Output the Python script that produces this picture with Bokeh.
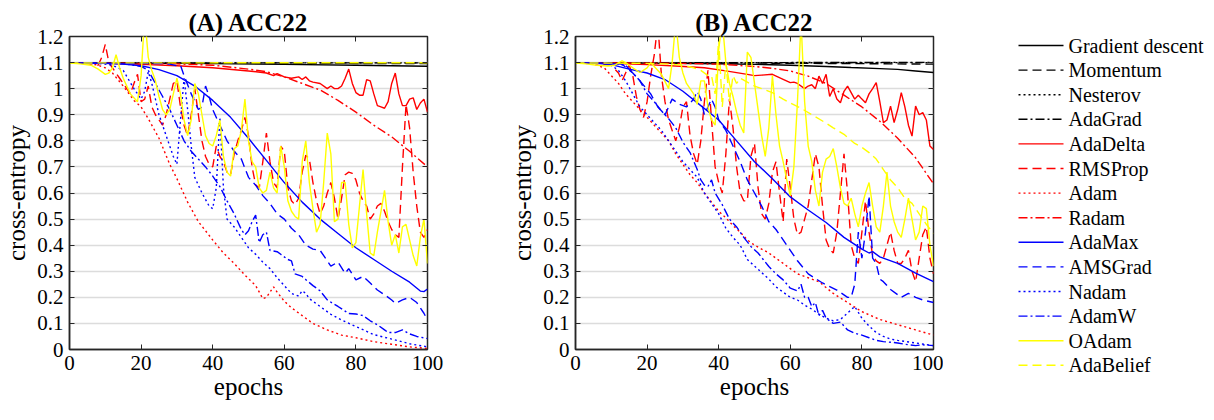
from bokeh.plotting import figure
from bokeh.layouts import row
from bokeh.models import FixedTicker, Range1d, LinearAxis
from bokeh.core.properties import value
from bokeh.embed import file_html
from bokeh.resources import INLINE

# ---------------- data (epoch, cross-entropy) ----------------
NAMES = ["Gradient descent", "Momentum", "Nesterov", "AdaGrad", "AdaDelta", "RMSProp",
         "Adam", "Radam", "AdaMax", "AMSGrad", "Nadam", "AdamW", "OAdam", "AdaBelief"]
TITLES = ["(A) ACC22", "(B) ACC22"]
X_TICKS = [0, 20, 40, 60, 80, 100]
Y_TICKS = [0, 0.1, 0.2, 0.3, 0.4, 0.5, 0.6, 0.7, 0.8, 0.9, 1, 1.1, 1.2]
Y_TICK_LABELS = ["0", "0.1", "0.2", "0.3", "0.4", "0.5", "0.6", "0.7", "0.8", "0.9", "1", "1.1", "1.2"]

# ----- panel A -----
A_GD = [(0, 1.0986), (20, 1.098), (40, 1.096), (60, 1.093), (80, 1.09), (100, 1.086)]
A_MOM = [(0, 1.0986), (50, 1.098), (100, 1.096)]
A_NES = [(0, 1.0986), (100, 1.0988)]
A_ADAGRAD = [(0, 1.0986), (100, 1.0990)]
A_ADADELTA = [(0, 1.0986), (10, 1.097), (20, 1.093), (30, 1.088), (40, 1.08), (50, 1.068), (55, 1.06), (57, 1.05),
              (58, 1.058), (60, 1.045), (62, 1.04), (64, 1.045), (65, 1.035), (66, 1.045), (67, 1.03), (68, 1.025),
              (70, 1.02), (72, 1.0), (73, 1.01), (74, 1.0), (75, 1.0), (76, 1.01), (77, 1.04), (78, 1.075),
              (79, 1.02), (80, 0.985), (81, 0.975), (82, 0.975), (83, 1.035), (84, 1.03), (85, 0.98), (86, 0.935),
              (87, 0.93), (88, 0.925), (89, 0.95), (90, 1.02), (91, 1.06), (92, 0.98), (93, 0.935), (94, 0.935),
              (95, 0.96), (96, 0.965), (97, 0.92), (98, 0.945), (99, 0.96), (100, 0.91)]
A_RMSPROP = [(0, 1.0986), (3, 1.097), (6, 1.095), (8, 1.09), (9, 1.12), (10, 1.17), (11, 1.1), (12, 1.08), (14, 1.04),
             (16, 1.0), (17, 0.98), (18, 1.02), (19, 1.055), (20, 0.95), (21, 0.96), (22, 1.01), (23, 0.93), (24, 0.9),
             (25, 0.88), (26, 0.86), (27, 0.9), (28, 0.96), (29, 1.02), (30, 1.03), (31, 0.93), (32, 0.86),
             (33, 0.82), (34, 0.9), (35, 1.0), (36, 0.9), (37, 0.8), (38, 0.74), (39, 0.71), (40, 0.7), (41, 0.78),
             (42, 0.74), (43, 0.72), (44, 0.68), (45, 0.67), (46, 0.75), (47, 0.8), (48, 0.84), (49, 0.89), (50, 0.82),
             (51, 0.7), (52, 0.63), (53, 0.62), (54, 0.72), (55, 0.83), (56, 0.72), (57, 0.64), (58, 0.62), (59, 0.78),
             (60, 0.76), (61, 0.62), (62, 0.57), (63, 0.555), (64, 0.58), (65, 0.68), (66, 0.745), (67, 0.73),
             (68, 0.64), (69, 0.57), (70, 0.52), (71, 0.55), (72, 0.6), (73, 0.64), (74, 0.58), (75, 0.5), (76, 0.58),
             (77, 0.67), (78, 0.68), (79, 0.675), (80, 0.65), (81, 0.6), (82, 0.57), (83, 0.55), (84, 0.5), (85, 0.52),
             (86, 0.55), (87, 0.56), (88, 0.53), (89, 0.49), (90, 0.46), (91, 0.44), (92, 0.43), (93, 0.7), (94, 0.94),
             (95, 0.85), (96, 0.68), (97, 0.55), (98, 0.45), (99, 0.43), (100, 0.46)]
A_ADAM = [(0, 1.0986), (5, 1.097), (8, 1.09), (10, 1.08), (12, 1.06), (15, 1.01), (18, 0.955), (20, 0.93), (22, 0.885),
          (25, 0.81), (28, 0.71), (30, 0.655), (33, 0.565), (36, 0.49), (40, 0.42), (43, 0.37), (46, 0.33), (49, 0.285),
          (52, 0.245), (54, 0.195), (55, 0.2), (57, 0.24), (58, 0.22), (60, 0.185), (62, 0.16), (65, 0.13), (68, 0.1),
          (72, 0.075), (76, 0.055), (80, 0.045), (85, 0.03), (90, 0.02), (95, 0.01), (100, 0.004)]
A_RADAM = [(0, 1.0986), (10, 1.098), (20, 1.097), (30, 1.095), (40, 1.09), (50, 1.075), (55, 1.065), (60, 1.045),
           (65, 1.02), (70, 0.995), (75, 0.955), (80, 0.91), (85, 0.86), (90, 0.815), (95, 0.76), (100, 0.70)]
A_ADAMAX = [(0, 1.0986), (10, 1.097), (15, 1.094), (20, 1.088), (25, 1.073), (30, 1.05), (35, 1.01), (40, 0.955),
            (45, 0.89), (50, 0.81), (55, 0.725), (60, 0.64), (65, 0.565), (70, 0.5), (75, 0.445), (80, 0.39),
            (85, 0.345), (90, 0.3), (95, 0.258), (98, 0.224), (99, 0.222), (100, 0.232)]
A_AMSGRAD = [(0, 1.0986), (10, 1.098), (20, 1.097), (26, 1.096), (28, 1.094), (30, 1.088), (31, 1.09), (32, 1.05),
             (34, 0.98), (36, 0.92), (37, 0.93), (38, 1.01), (39, 0.97), (40, 0.92), (42, 0.86), (44, 0.8), (46, 0.76),
             (48, 0.73), (50, 0.66), (52, 0.63), (54, 0.59), (56, 0.56), (58, 0.52), (60, 0.5), (62, 0.465),
             (64, 0.44), (66, 0.4), (68, 0.385), (70, 0.38), (72, 0.34), (73, 0.32), (75, 0.335), (77, 0.292),
             (78, 0.31), (80, 0.267), (82, 0.28), (84, 0.255), (86, 0.228), (88, 0.21), (90, 0.19), (91, 0.177),
             (93, 0.19), (95, 0.2), (97, 0.18), (99, 0.139), (100, 0.113)]
A_NADAM = [(0, 1.0986), (8, 1.097), (12, 1.09), (15, 1.07), (18, 1.0), (20, 0.96), (21, 0.99), (22, 1.065), (23, 1.02),
           (25, 0.9), (27, 0.82), (29, 0.74), (30, 0.71), (31, 0.88), (32, 1.04), (33, 0.92), (34, 0.78), (35, 0.66),
           (37, 0.6), (39, 0.55), (40, 0.54), (41, 0.62), (42, 0.89), (43, 0.62), (44, 0.5), (46, 0.47), (48, 0.43),
           (50, 0.39), (52, 0.365), (54, 0.335), (56, 0.31), (58, 0.275), (60, 0.245), (62, 0.215), (64, 0.205),
           (65, 0.225), (66, 0.215), (67, 0.195), (70, 0.165), (73, 0.135), (76, 0.113), (80, 0.088), (85, 0.057),
           (90, 0.04), (95, 0.022), (100, 0.01)]
A_ADAMW = [(0, 1.0986), (10, 1.098), (15, 1.095), (18, 1.09), (20, 1.085), (22, 1.07), (24, 1.02), (26, 0.97),
           (28, 0.92), (30, 0.86), (32, 0.8), (34, 0.76), (36, 0.73), (38, 0.7), (40, 0.665), (42, 0.625), (44, 0.57),
           (46, 0.52), (48, 0.46), (49, 0.44), (50, 0.455), (51, 0.49), (52, 0.515), (53, 0.41), (54, 0.44),
           (55, 0.45), (56, 0.38), (58, 0.375), (59, 0.365), (61, 0.345), (62, 0.34), (63, 0.29), (65, 0.28),
           (66, 0.268), (68, 0.245), (70, 0.225), (72, 0.19), (75, 0.165), (78, 0.138), (80, 0.136), (82, 0.13),
           (84, 0.11), (86, 0.095), (88, 0.075), (89, 0.065), (91, 0.065), (93, 0.075), (95, 0.06), (97, 0.05),
           (100, 0.042)]
A_OADAM = [(0, 1.0986), (3, 1.095), (6, 1.09), (8, 1.075), (10, 1.055), (11, 1.06), (12, 1.08), (13, 1.13), (14, 1.08),
           (15, 1.04), (17, 0.98), (19, 0.95), (20, 1.05), (21, 1.28), (22, 1.12), (23, 1.07), (24, 1.03), (25, 0.97),
           (26, 0.92), (27, 0.9), (28, 0.92), (29, 0.98), (30, 1.04), (31, 0.98), (32, 0.88), (33, 0.82), (34, 0.88),
           (35, 1.02), (36, 0.98), (37, 0.9), (38, 0.82), (39, 0.79), (40, 0.78), (41, 0.82), (42, 0.88), (43, 0.74),
           (44, 0.68), (45, 0.665), (46, 0.77), (47, 0.78), (48, 0.84), (49, 0.96), (50, 0.8), (51, 0.72), (52, 0.7),
           (53, 0.62), (54, 0.6), (55, 0.61), (56, 0.68), (57, 0.62), (58, 0.6), (59, 0.78), (60, 0.7), (61, 0.57),
           (62, 0.53), (63, 0.51), (64, 0.5), (65, 0.72), (66, 0.8), (67, 0.64), (68, 0.54), (69, 0.45), (70, 0.48),
           (71, 0.64), (72, 0.83), (73, 0.75), (74, 0.49), (75, 0.5), (76, 0.64), (77, 0.64), (78, 0.48), (79, 0.39),
           (80, 0.41), (81, 0.55), (82, 0.69), (83, 0.52), (84, 0.37), (85, 0.36), (86, 0.45), (87, 0.53), (88, 0.61),
           (89, 0.49), (90, 0.4), (91, 0.44), (92, 0.37), (93, 0.47), (94, 0.48), (95, 0.42), (96, 0.36), (97, 0.32),
           (98, 0.43), (99, 0.5), (100, 0.33)]
A_ADABELIEF = [(0, 1.0986), (50, 1.0992), (100, 1.0995)]

# ----- panel B -----
B_GD = [(0, 1.0986), (20, 1.098), (40, 1.095), (50, 1.093), (60, 1.09), (70, 1.085), (77, 1.081), (85, 1.077),
        (90, 1.074), (95, 1.068), (100, 1.062)]
B_MOM = [(0, 1.0986), (50, 1.098), (80, 1.096), (100, 1.094)]
B_NES = [(0, 1.0986), (100, 1.100)]
B_ADAGRAD = [(0, 1.0986), (100, 1.101)]
B_ADADELTA = [(0, 1.0986), (10, 1.097), (20, 1.092), (28, 1.087), (36, 1.08), (42, 1.068), (48, 1.055), (50, 1.05),
              (52, 1.052), (55, 1.055), (58, 1.036), (60, 1.023), (61, 1.025), (62, 1.02), (64, 1.0), (65, 1.01),
              (66, 1.015), (67, 1.0), (68, 1.048), (69, 1.02), (70, 1.055), (71, 0.97), (72, 1.0), (73, 0.96),
              (74, 0.946), (75, 0.99), (76, 1.01), (77, 0.985), (78, 0.96), (79, 0.975), (80, 0.96), (81, 0.946),
              (82, 0.98), (83, 1.0), (84, 1.023), (85, 0.95), (86, 0.87), (87, 0.88), (88, 0.933), (89, 0.87),
              (90, 0.92), (91, 0.985), (92, 0.93), (93, 0.86), (94, 0.818), (95, 0.933), (96, 0.9), (97, 0.908),
              (98, 0.88), (99, 0.78), (100, 0.767)]
B_RMSPROP = [(0, 1.0986), (5, 1.098), (10, 1.09), (12, 1.06), (13, 1.03), (14, 1.06), (15, 1.09), (16, 1.05),
             (17, 0.97), (18, 0.92), (19, 0.89), (20, 0.95), (21, 1.05), (22, 1.13), (23, 1.25), (24, 1.05), (25, 0.95),
             (26, 0.88), (27, 0.84), (28, 0.8), (29, 0.85), (30, 0.93), (31, 0.95), (32, 0.82), (33, 0.75), (34, 0.71),
             (35, 0.8), (36, 0.95), (37, 1.07), (38, 0.88), (39, 0.7), (40, 0.64), (41, 0.6), (42, 0.75), (43, 0.96),
             (44, 0.85), (45, 0.7), (46, 0.6), (47, 0.57), (48, 0.57), (49, 0.74), (50, 0.79), (51, 0.62), (52, 0.52),
             (53, 0.5), (54, 0.56), (55, 0.68), (56, 0.72), (57, 0.6), (58, 0.49), (59, 0.73), (60, 0.62), (61, 0.5),
             (62, 0.44), (63, 0.45), (64, 0.5), (65, 0.55), (66, 0.65), (67, 0.75), (68, 0.7), (69, 0.55), (70, 0.42),
             (71, 0.385), (72, 0.37), (73, 0.45), (74, 0.6), (75, 0.75), (76, 0.6), (77, 0.4), (78, 0.35), (79, 0.33),
             (80, 0.45), (81, 0.57), (82, 0.45), (83, 0.36), (84, 0.34), (85, 0.33), (86, 0.35), (87, 0.4), (88, 0.45),
             (89, 0.38), (90, 0.33), (91, 0.33), (92, 0.35), (93, 0.38), (94, 0.3), (95, 0.26), (96, 0.35), (97, 0.44),
             (98, 0.47), (99, 0.35), (100, 0.29)]
B_ADAM = [(0, 1.0986), (4, 1.096), (6, 1.09), (8, 1.08), (10, 1.05), (12, 1.02), (14, 0.98), (16, 0.95), (18, 0.92),
          (20, 0.89), (22, 0.86), (24, 0.83), (26, 0.8), (28, 0.75), (30, 0.71), (32, 0.67), (34, 0.64), (36, 0.6),
          (38, 0.565), (40, 0.53), (42, 0.505), (44, 0.475), (46, 0.45), (48, 0.42), (50, 0.4), (54, 0.37), (58, 0.33),
          (62, 0.29), (65, 0.275), (68, 0.26), (72, 0.215), (76, 0.18), (80, 0.145), (85, 0.115), (90, 0.095),
          (95, 0.075), (100, 0.055)]
B_RADAM = [(0, 1.0986), (20, 1.098), (30, 1.097), (40, 1.094), (50, 1.085), (55, 1.078), (60, 1.068), (65, 1.048),
           (70, 1.02), (75, 0.975), (80, 0.93), (85, 0.875), (90, 0.81), (95, 0.735), (100, 0.635)]
B_ADAMAX = [(0, 1.0986), (5, 1.098), (10, 1.092), (15, 1.075), (20, 1.06), (25, 1.035), (30, 0.99), (35, 0.935),
            (40, 0.88), (45, 0.8), (50, 0.72), (55, 0.655), (60, 0.585), (65, 0.535), (70, 0.487), (75, 0.43),
            (80, 0.385), (82, 0.37), (83, 0.375), (85, 0.355), (90, 0.33), (95, 0.293), (100, 0.26)]
B_AMSGRAD = [(0, 1.0986), (10, 1.098), (13, 1.094), (16, 1.06), (18, 1.03), (21, 0.98), (23, 0.93), (25, 0.9),
             (27, 0.96), (29, 0.94), (31, 0.93), (33, 0.96), (34, 0.99), (35, 0.96), (36, 0.9), (38, 0.96), (39, 0.93),
             (40, 0.88), (42, 0.84), (44, 0.78), (46, 0.72), (48, 0.65), (50, 0.6), (52, 0.55), (54, 0.49), (56, 0.46),
             (58, 0.42), (60, 0.38), (62, 0.34), (65, 0.29), (69, 0.255), (73, 0.228), (76, 0.2), (77, 0.2),
             (78, 0.25), (79, 0.45), (80, 0.35), (81, 0.45), (82, 0.59), (83, 0.35), (84, 0.33), (85, 0.27),
             (86, 0.26), (88, 0.23), (91, 0.2), (93, 0.215), (95, 0.2), (97, 0.19), (100, 0.18)]
B_NADAM = [(0, 1.0986), (8, 1.098), (10, 1.09), (12, 1.07), (14, 1.03), (16, 0.98), (18, 0.93), (20, 0.9), (22, 0.87),
           (24, 0.84), (26, 0.8), (28, 0.76), (30, 0.72), (32, 0.69), (34, 0.66), (36, 0.6), (38, 0.56), (40, 0.52),
           (42, 0.465), (44, 0.43), (46, 0.4), (48, 0.345), (50, 0.32), (52, 0.295), (54, 0.27), (56, 0.24),
           (58, 0.22), (60, 0.2), (62, 0.19), (64, 0.17), (66, 0.155), (68, 0.135), (70, 0.12), (72, 0.11),
           (74, 0.115), (76, 0.14), (78, 0.165), (80, 0.12), (82, 0.09), (84, 0.065), (86, 0.05), (88, 0.04),
           (90, 0.035), (95, 0.025), (100, 0.015)]
B_ADAMW = [(0, 1.0986), (8, 1.098), (11, 1.095), (14, 1.09), (16, 1.06), (18, 1.03), (20, 0.98), (22, 0.95),
           (24, 0.915), (26, 0.885), (28, 0.85), (30, 0.795), (32, 0.755), (34, 0.69), (35, 0.65), (36, 0.63),
           (37, 0.625), (38, 0.65), (39, 0.6), (41, 0.555), (43, 0.5), (45, 0.47), (47, 0.43), (49, 0.395),
           (51, 0.37), (54, 0.318), (56, 0.29), (58, 0.267), (60, 0.235), (62, 0.225), (63, 0.25), (64, 0.2),
           (65, 0.2), (66, 0.165), (67, 0.18), (68, 0.13), (69, 0.15), (70, 0.12), (72, 0.1), (74, 0.105),
           (76, 0.075), (78, 0.062), (80, 0.055), (82, 0.045), (84, 0.035), (86, 0.03), (88, 0.028), (90, 0.025),
           (92, 0.02), (95, 0.015), (97, 0.018), (100, 0.015)]
B_OADAM = [(0, 1.0986), (3, 1.095), (6, 1.09), (9, 1.087), (11, 1.09), (13, 1.107), (14, 1.1), (16, 1.08),
           (18, 1.062), (20, 1.08), (21, 1.1), (22, 1.085), (24, 1.055), (26, 1.0), (27, 1.1), (28, 1.26), (29, 1.12),
           (30, 1.06), (31, 1.02), (33, 0.98), (34, 0.94), (35, 1.03), (36, 1.03), (37, 0.93), (38, 0.88), (39, 0.86),
           (40, 1.15), (41, 1.26), (42, 1.1), (43, 1.02), (44, 0.97), (45, 0.91), (46, 0.86), (47, 0.83), (48, 1.14),
           (49, 1.12), (50, 1.02), (51, 0.92), (52, 0.82), (53, 0.74), (54, 0.85), (55, 1.05), (56, 0.9), (57, 0.78),
           (58, 0.72), (59, 0.65), (60, 0.59), (61, 0.7), (62, 0.95), (63, 1.26), (64, 0.95), (65, 0.78), (66, 0.72),
           (67, 0.61), (68, 0.55), (69, 0.68), (70, 0.73), (71, 0.74), (72, 0.77), (73, 0.7), (74, 0.62), (75, 0.56),
           (76, 0.55), (77, 0.58), (78, 0.52), (79, 0.47), (80, 0.55), (81, 0.6), (82, 0.64), (83, 0.55), (84, 0.47),
           (85, 0.45), (86, 0.55), (87, 0.68), (88, 0.55), (89, 0.49), (90, 0.45), (91, 0.43), (92, 0.5), (93, 0.58),
           (94, 0.5), (95, 0.42), (96, 0.45), (97, 0.55), (98, 0.54), (99, 0.4), (100, 0.32)]
B_ADABELIEF = [(0, 1.0986), (10, 1.098), (20, 1.097), (25, 1.095), (30, 1.09), (33, 1.08), (35, 1.07), (37, 1.05),
               (38, 1.05), (39, 0.98), (40, 1.19), (41, 0.93), (42, 1.1), (43, 0.95), (44, 1.05), (45, 1.02),
               (46, 1.04), (48, 1.025), (50, 1.01), (52, 1.0), (55, 0.985), (58, 0.96), (60, 0.945), (63, 0.925),
               (66, 0.9), (69, 0.876), (72, 0.85), (75, 0.825), (78, 0.79), (80, 0.775), (82, 0.755), (84, 0.73),
               (86, 0.69), (88, 0.65), (90, 0.62), (92, 0.58), (94, 0.56), (96, 0.52), (98, 0.48), (100, 0.445)]

PANEL_A = [A_GD, A_MOM, A_NES, A_ADAGRAD, A_ADADELTA, A_RMSPROP, A_ADAM, A_RADAM,
           A_ADAMAX, A_AMSGRAD, A_NADAM, A_ADAMW, A_OADAM, A_ADABELIEF]
PANEL_B = [B_GD, B_MOM, B_NES, B_ADAGRAD, B_ADADELTA, B_RMSPROP, B_ADAM, B_RADAM,
           B_ADAMAX, B_AMSGRAD, B_NADAM, B_ADAMW, B_OADAM, B_ADABELIEF]

# ---------------- styles ----------------
BLACK, RED, BLUE, YELLOW = "#000000", "#FF0000", "#0000FF", "#FFFF00"
SOLID, DASHED, DOTTED, DASHDOT = "solid", "9 5", "2 3", "9 3 2 3"
STYLES = [(BLACK, SOLID), (BLACK, DASHED), (BLACK, DOTTED), (BLACK, DASHDOT),
          (RED, SOLID), (RED, DASHED), (RED, DOTTED), (RED, DASHDOT),
          (BLUE, SOLID), (BLUE, DASHED), (BLUE, DOTTED), (BLUE, DASHDOT),
          (YELLOW, SOLID), (YELLOW, DASHED)]
FONT = "Liberation Serif"
AXIS_COLOR = "#262626"
LINE_W = 1.4


def style_box_axis(ax, label_size):
    ax.axis_line_color = None
    ax.major_tick_in = 5
    ax.major_tick_out = 0
    ax.major_tick_line_color = AXIS_COLOR
    ax.minor_tick_line_color = None
    ax.major_label_text_color = None
    ax.major_label_text_font_size = label_size
    ax.major_label_standoff = 0


def make_panel(title, series, right_border):
    p = figure(frame_width=358, frame_height=313, output_backend="svg", toolbar_location=None,
               x_range=Range1d(0, 100), y_range=Range1d(0, 1.2),
               min_border_left=63, min_border_right=right_border, min_border_top=36, min_border_bottom=61,
               background_fill_color="white", border_fill_color="white")
    p.title.text = title
    p.title.align = "center"
    p.title.text_font = FONT
    p.title.text_font_size = "25px"
    p.title.text_font_style = "bold"
    p.title.text_color = "#000000"
    p.title.standoff = 2

    p.outline_line_color = AXIS_COLOR
    p.outline_line_width = 1.5

    for ax in (p.xaxis, p.yaxis):
        ax.axis_line_color = AXIS_COLOR
        ax.axis_line_width = 1.5
        ax.major_tick_in = 5
        ax.major_tick_out = 0
        ax.major_tick_line_color = AXIS_COLOR
        ax.minor_tick_line_color = None
        ax.major_label_text_font = FONT
        ax.major_label_text_font_size = "21px"
        ax.major_label_text_color = "#000000"
        ax.axis_label_text_font = FONT
        ax.axis_label_text_font_size = "25px"
        ax.axis_label_text_font_style = "normal"
        ax.axis_label_text_color = "#000000"
    p.xaxis.ticker = FixedTicker(ticks=X_TICKS)
    p.yaxis.ticker = FixedTicker(ticks=Y_TICKS)
    p.yaxis.major_label_overrides = {t: s for t, s in zip(Y_TICKS, Y_TICK_LABELS)}
    p.xaxis.major_label_standoff = 6
    p.yaxis.major_label_standoff = 6
    p.xaxis.axis_label = "epochs"
    p.yaxis.axis_label = "cross-entropy"
    p.xaxis.axis_label_standoff = 0
    p.yaxis.axis_label_standoff = 4

    top = LinearAxis(ticker=FixedTicker(ticks=X_TICKS))
    style_box_axis(top, "11px")
    p.add_layout(top, "above")
    right = LinearAxis(ticker=FixedTicker(ticks=Y_TICKS))
    style_box_axis(right, "1px")
    p.add_layout(right, "right")

    p.xgrid.visible = False
    p.ygrid.ticker = FixedTicker(ticks=Y_TICKS)
    p.ygrid.grid_line_color = "#dcdcdc"
    p.ygrid.grid_line_width = 1.5

    for data, (color, dash) in zip(series, STYLES):
        xs = [e for e, _ in data]
        ys = [v for _, v in data]
        p.line(xs, ys, line_color=color, line_dash=dash, line_width=LINE_W)
    return p


pA = make_panel(TITLES[0], PANEL_A, 79)
pB = make_panel(TITLES[1], PANEL_B, 10)

# ---------------- legend panel (pixel-unit canvas, y measured from the top) ----------------
LEG_W, LEG_H = 267, 404
pC = figure(frame_width=LEG_W, frame_height=LEG_H, output_backend="svg", toolbar_location=None,
            x_range=Range1d(0, LEG_W), y_range=Range1d(LEG_H, 0),
            x_axis_location=None, y_axis_location=None, title=None,
            min_border_left=0, min_border_right=0, min_border_top=0, min_border_bottom=0,
            background_fill_color="white", border_fill_color="white")
pC.outline_line_color = None
pC.xgrid.visible = False
pC.ygrid.visible = False

row_step, first_row = 24.6, 9
glyph_x0, glyph_len, text_gap = 75, 45, 5
row_y = [first_row + i * row_step for i in range(len(NAMES))]
for yy, (color, dash) in zip(row_y, STYLES):
    pC.line([glyph_x0, glyph_x0 + glyph_len], [yy, yy], line_color=color, line_dash=dash, line_width=LINE_W)
pC.text(x=[glyph_x0 + glyph_len + text_gap] * len(NAMES), y=row_y, text=NAMES,
        text_font=value(FONT), text_font_size=value("20px"), text_color="#000000",
        text_align="left", text_baseline="middle")

layout = row(pA, pB, pC)
open("out.html", "w").write(file_html(layout, INLINE))
